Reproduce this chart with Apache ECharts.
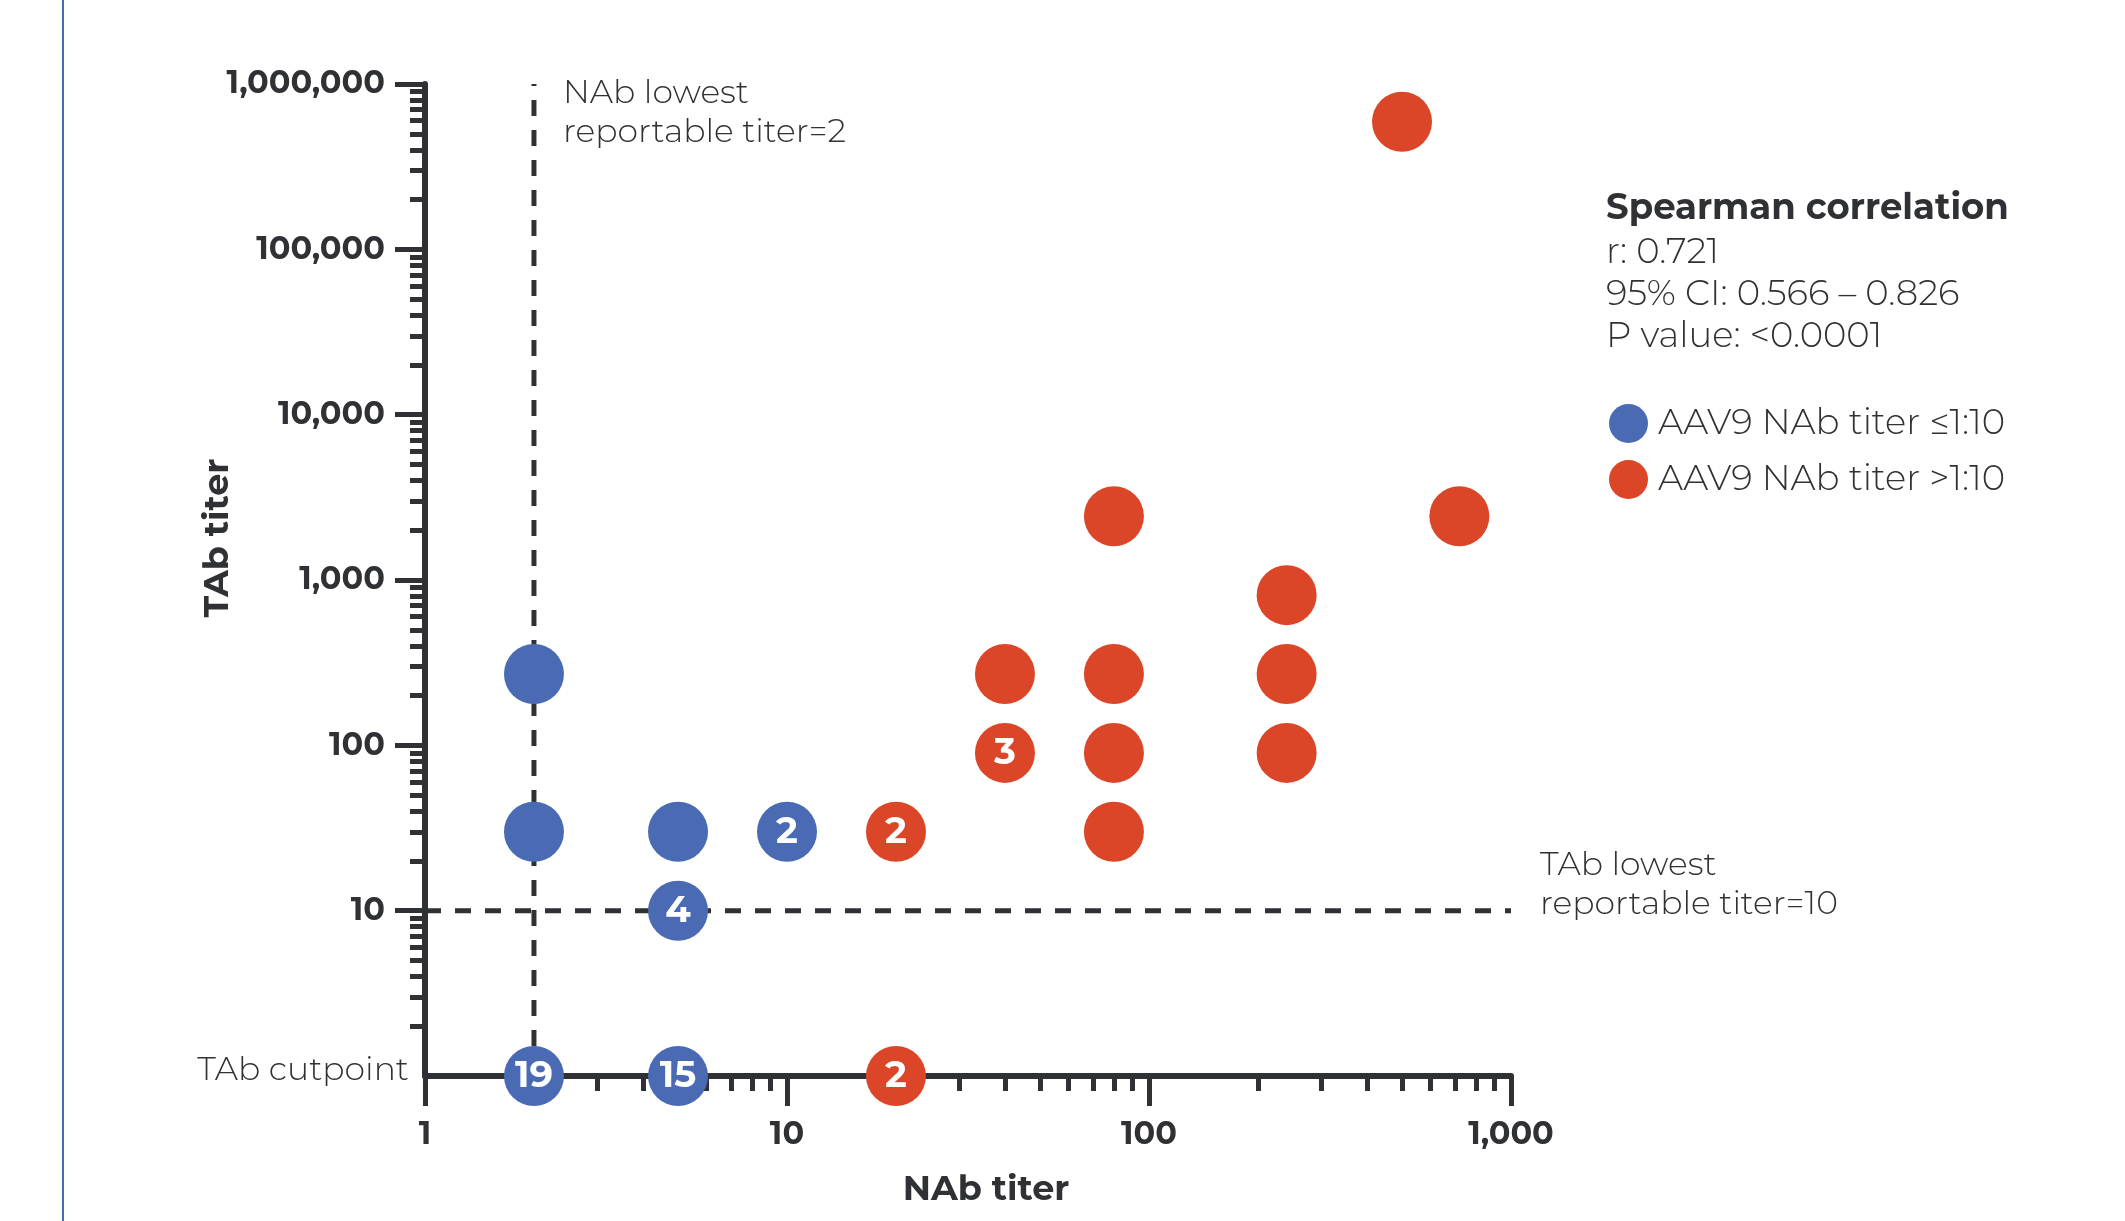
<!DOCTYPE html>
<html>
<head>
<meta charset="utf-8">
<title>TAb titer vs NAb titer</title>
<script src="https://cdn.jsdelivr.net/npm/echarts@6/dist/echarts.min.js"></script>
<style>
  html, body { margin: 0; padding: 0; background: #ffffff; }
  #chart { width: 2125px; height: 1221px; }
</style>
</head>
<body>
<div id="chart"></div>
<script>
// Value used for samples below the TAb cutpoint (drawn on the bottom axis)
const TAB_CUTPOINT = 1;
const NAB_LOWEST = 2;
const TAB_LOWEST = 10;

// AAV9 NAb titer <=1:10
const blueNAb   = [2,   2,  2,            5,  5,  5,            10];
const blueTAb   = [270, 30, TAB_CUTPOINT, 30, 10, TAB_CUTPOINT, 30];
const blueCount = [1,   1,  19,           1,  4,  15,           2];

// AAV9 NAb titer >1:10
const redNAb   = [20, 20,           40,  40, 80,   80,  80, 80, 240, 240, 240, 500,    720];
const redTAb   = [30, TAB_CUTPOINT, 270, 90, 2430, 270, 90, 30, 810, 270, 90,  590490, 2430];
const redCount = [2,  2,            1,   3,  1,    1,   1,  1,  1,   1,   1,   1,      1];

// Axis ticks
const xMajorTicks = [1, 10, 100, 1000];
const xMinorTicks = [2, 3, 4, 5, 6, 7, 8, 9, 20, 30, 40, 50, 60, 70, 80, 90,
                     200, 300, 400, 500, 600, 700, 800, 900];
const yMajorTicks = [10, 100, 1000, 10000, 100000, 1000000];
const yMinorTicks = [2, 3, 4, 5, 6, 7, 8, 9,
                     20, 30, 40, 50, 60, 70, 80, 90,
                     200, 300, 400, 500, 600, 700, 800, 900,
                     2000, 3000, 4000, 5000, 6000, 7000, 8000, 9000,
                     20000, 30000, 40000, 50000, 60000, 70000, 80000, 90000,
                     200000, 300000, 400000, 500000, 600000, 700000, 800000, 900000];

const legendNames = ['AAV9 NAb titer \u22641:10', 'AAV9 NAb titer >1:10'];
const statTitle = 'Spearman correlation';
const statLines = ['r: 0.721', '95% CI: 0.566 \u2013 0.826', 'P value: <0.0001'];

const INK = '#2f3135';
const BLUE = '#4a6ab3';
const RED = '#dc4628';
const FONT = 'Montserrat, Inter, "Open Sans", sans-serif';

function points(xs, ys, counts) {
  return xs.map(function (x, i) { return [x, ys[i], counts[i]]; });
}
function fmt(v) { return Number(v).toLocaleString('en-US'); }

const dotLabel = {
  show: true,
  position: 'inside',
  color: '#ffffff',
  fontFamily: FONT,
  fontWeight: 700,
  fontSize: 37,
  formatter: function (p) { return p.value[2] > 1 ? String(p.value[2]) : ''; }
};

const chart = echarts.init(document.getElementById('chart'), null, { renderer: 'canvas' });

const option = {
  animation: false,
  backgroundColor: '#ffffff',
  textStyle: { fontFamily: FONT, color: INK },
  grid: { left: 425, right: 614, top: 84, bottom: 145 },
  legend: {
    orient: 'vertical',
    left: 1604,
    top: 399,
    icon: 'circle',
    itemWidth: 39,
    itemHeight: 39,
    itemGap: 17,
    selectedMode: false,
    data: legendNames,
    textStyle: { fontFamily: FONT, fontSize: 35.5, fontWeight: 300, color: INK, padding: [0, 0, 0, 5] }
  },
  xAxis: [
    {
      type: 'log', logBase: 10, min: 1, max: 1000, position: 'bottom',
      name: 'NAb titer', nameLocation: 'middle', nameGap: 96, nameMoveOverlap: false,
      nameTextStyle: { fontFamily: FONT, fontSize: 35, fontWeight: 700, color: INK, padding: [0, 0, 0, 36] },
      axisLine: { show: true, lineStyle: { color: INK, width: 6 } },
      axisTick: { show: true, length: 30, lineStyle: { color: INK, width: 5 }, customValues: xMajorTicks },
      axisLabel: { show: true, margin: 43, fontFamily: FONT, fontSize: 32, fontWeight: 700, color: INK,
                   customValues: xMajorTicks, formatter: fmt },
      splitLine: { show: false }
    },
    {
      type: 'log', logBase: 10, min: 1, max: 1000, position: 'bottom',
      axisLine: { show: false },
      axisTick: { show: true, length: 15, lineStyle: { color: INK, width: 5 }, customValues: xMinorTicks },
      axisLabel: { show: false },
      splitLine: { show: false }
    }
  ],
  yAxis: [
    {
      type: 'log', logBase: 10, min: 1, max: 1000000, position: 'left',
      name: 'TAb titer', nameLocation: 'middle', nameGap: 190, nameMoveOverlap: false,
      nameTextStyle: { fontFamily: FONT, fontSize: 35, fontWeight: 700, color: INK, padding: [0, 0, 0, 84] },
      axisLine: { show: true, lineStyle: { color: INK, width: 6 } },
      axisTick: { show: true, length: 30, lineStyle: { color: INK, width: 5 }, customValues: yMajorTicks },
      axisLabel: { show: true, margin: 40, fontFamily: FONT, fontSize: 32, fontWeight: 700, color: INK,
                   customValues: yMajorTicks, formatter: fmt },
      splitLine: { show: false }
    },
    {
      type: 'log', logBase: 10, min: 1, max: 1000000, position: 'left',
      axisLine: { show: false },
      axisTick: { show: true, length: 15, lineStyle: { color: INK, width: 5 }, customValues: yMinorTicks },
      axisLabel: { show: false },
      splitLine: { show: false }
    }
  ],
  series: [
    {
      name: 'NAb lowest reportable titer',
      type: 'line', xAxisIndex: 0, yAxisIndex: 0, z: 1,
      symbol: 'none', silent: true,
      lineStyle: { color: INK, width: 5, type: [16, 14] },
      data: [[NAB_LOWEST, TAB_CUTPOINT], [NAB_LOWEST, 1000000]]
    },
    {
      name: 'TAb lowest reportable titer',
      type: 'line', xAxisIndex: 0, yAxisIndex: 0, z: 1,
      symbol: 'none', silent: true,
      lineStyle: { color: INK, width: 5, type: [16, 14] },
      data: [[1, TAB_LOWEST], [1000, TAB_LOWEST]]
    },
    {
      name: legendNames[0],
      type: 'scatter', xAxisIndex: 0, yAxisIndex: 0, z: 5,
      symbol: 'circle', symbolSize: 60,
      itemStyle: { color: BLUE, opacity: 1 },
      label: dotLabel,
      data: points(blueNAb, blueTAb, blueCount)
    },
    {
      name: legendNames[1],
      type: 'scatter', xAxisIndex: 0, yAxisIndex: 0, z: 5,
      symbol: 'circle', symbolSize: 60,
      itemStyle: { color: RED, opacity: 1 },
      label: dotLabel,
      data: points(redNAb, redTAb, redCount)
    }
  ]
};

chart.setOption(option);

// Annotations anchored to data positions on the axes
const atNabLowestTop = chart.convertToPixel({ seriesIndex: 0 }, [NAB_LOWEST, 1000000]);
const atTabLowestEnd = chart.convertToPixel({ seriesIndex: 0 }, [1000, TAB_LOWEST]);
const atCutpoint = chart.convertToPixel({ seriesIndex: 0 }, [1, TAB_CUTPOINT]);

const lightText = { fontFamily: FONT, fontSize: 33, fontWeight: 300, fill: INK };

function statText(text, y, weight) {
  return {
    type: 'text', silent: true, x: 1606, y: y,
    style: { text: text, fontFamily: FONT, fontSize: 35.5, fontWeight: weight, fill: INK,
             textAlign: 'left', textVerticalAlign: 'middle' }
  };
}

chart.setOption({
  graphic: [
    {
      type: 'line', silent: true,
      shape: { x1: 63, y1: 0, x2: 63, y2: 1221 },
      style: { stroke: BLUE, lineWidth: 2 }
    },
    {
      type: 'text', silent: true,
      x: atNabLowestTop[0] + 29, y: atNabLowestTop[1] - 10,
      style: Object.assign({ text: 'NAb lowest\nreportable titer=2', lineHeight: 39,
                              textAlign: 'left', textVerticalAlign: 'top' }, lightText)
    },
    {
      type: 'text', silent: true,
      x: atTabLowestEnd[0] + 29, y: atTabLowestEnd[1] - 26,
      style: Object.assign({ text: 'TAb lowest\nreportable titer=10', lineHeight: 39,
                              textAlign: 'left', textVerticalAlign: 'middle' }, lightText)
    },
    {
      type: 'text', silent: true,
      x: atCutpoint[0] - 16, y: atCutpoint[1] - 6,
      style: Object.assign({ text: 'TAb cutpoint', textAlign: 'right', textVerticalAlign: 'middle' }, lightText)
    },
    statText(statTitle, 209, 700),
    statText(statLines[0], 253, 300),
    statText(statLines[1], 295, 300),
    statText(statLines[2], 337, 300)
  ]
});
</script>
</body>
</html>
